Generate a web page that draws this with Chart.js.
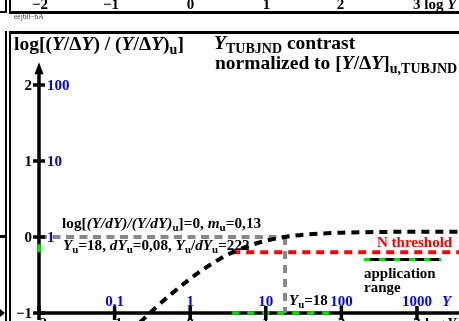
<!DOCTYPE html>
<html>
<head>
<meta charset="utf-8">
<script src="https://cdn.jsdelivr.net/npm/chart.js@4.4.1/dist/chart.umd.min.js"></script>
<style>
html, body { margin: 0; padding: 0; background: #fff; overflow: hidden; }
#wrap { position: relative; width: 459px; height: 321px; overflow: hidden;
  font-family: "Liberation Serif", "Times New Roman", serif; font-weight: bold; color: #000; }
#wrap canvas { position: absolute; left: 0; top: 0; }
.t { position: absolute; white-space: nowrap; line-height: 1; font-size: 15px; }
.c { transform: translateX(-50%); }
.s { font-size: .72em; position: relative; top: .3em; }
i { font-style: italic; }
.bar { position: absolute; background: #000; }
</style>
</head>
<body>
<div id="wrap">
  <!-- frames -->
  <div class="bar" style="left:5px;top:0;width:2px;height:13px"></div>
  <div class="bar" style="left:0;top:11px;width:7px;height:2px"></div>
  <div class="bar" style="left:9px;top:0;width:2px;height:13px"></div>
  <div class="bar" style="left:9px;top:11px;width:450px;height:2.5px"></div>
  <div class="bar" style="left:5px;top:31px;width:2px;height:290px"></div>
  <div class="bar" style="left:9px;top:31px;width:2px;height:290px"></div>
  <div class="bar" style="left:9px;top:31px;width:450px;height:2.5px"></div>
  <div class="bar" style="left:0;top:235px;width:5px;height:3px"></div>
  <div style="position:absolute;left:0;top:309px;width:0;height:0;border-top:4px solid transparent;border-bottom:4px solid transparent;border-left:5px solid #000"></div>

  <canvas id="chart" width="459" height="321"></canvas>

  <!-- tick labels of the panel above -->
  <div class="t c" style="left:40px;top:-3px">−2</div>
  <div class="t c" style="left:111px;top:-3px">−1</div>
  <div class="t c" style="left:190.5px;top:-3px">0</div>
  <div class="t c" style="left:266.5px;top:-3px">1</div>
  <div class="t c" style="left:340.5px;top:-3px">2</div>
  <div class="t" style="left:413px;top:-3px">3 log <i>Y</i></div>
  <div class="t" style="left:14px;top:13px;font-size:7.5px;font-weight:normal;color:#333">eej60−6A</div>

  <!-- titles -->
  <div class="t" style="left:14px;top:34px;font-size:19.5px">log[(<i>Y</i>/Δ<i>Y</i>) / (<i>Y</i>/Δ<i>Y</i>)<span class="s">u</span>]</div>
  <div class="t" style="left:214px;top:33px;font-size:19.5px"><i>Y</i><span class="s">TUBJND</span> contrast</div>
  <div class="t" style="left:215px;top:52.5px;font-size:19.5px">normalized to [<i>Y</i>/Δ<i>Y</i>]<span class="s">u,TUBJND</span></div>

  <!-- annotations -->
  <div class="t" style="left:62px;top:214.5px;font-size:15.3px">log[<i>(Y/dY)/(Y/dY)</i><span class="s">u</span>]=0, <i>m</i><span class="s">u</span>=0,13</div>
  <div class="t" style="left:63px;top:236.5px;font-size:15.2px"><i>Y</i><span class="s">u</span>=18, <i>dY</i><span class="s">u</span>=0,08, <i>Y</i><span class="s">u</span>/<i>dY</i><span class="s">u</span>=222</div>
  <div class="t" style="left:377px;top:234.5px;color:#ff0000">N threshold</div>
  <div style="position:absolute;left:364px;top:257.5px;width:77px;height:3.5px;background:repeating-linear-gradient(90deg,#00e000 0 6px,#000 6px 15px)"></div>
  <div class="t" style="left:364px;top:265.5px">application</div>
  <div class="t" style="left:364px;top:280px">range</div>
  <div class="t" style="left:289px;top:292.5px"><i>Y</i><span class="s">u</span>=18</div>
</div>

<script>
// log Y decades on the x axis
const decadeTicks = [-2, -1, 0, 1, 2, 3];
const blueXLabels = ["", "0,1", "1", "10", "100", "1000"];
const blackXLabels = ["−2", "−1", "0", "1", "2", "3"];

// normalized contrast levels on the y axis
const levelTicks = [2, 1, 0, -1];
const levelLabels = ["2", "1", "0", "−1"];
const ratioLabels = ["100", "10", "1", ""];

// black dashed contrast curve
const curveLogY  = [-0.8, -0.5, -0.25, 0, 0.25, 0.5, 0.75, 1.0, 1.25, 1.5, 2.0, 2.5, 3.0, 3.6];
const curveLevel = [-1.25, -0.97, -0.75, -0.55, -0.375, -0.23, -0.125, -0.05, 0.0, 0.03, 0.057, 0.066, 0.069, 0.07];

const logYu = 1.255;          // Yu = 18
const nThreshold = -0.2;
const rangeLogY = [0.556, 1.857];
const axisTop = 2.3;
const xEnd = 3.6;

function $(id){ return document.getElementById(id); }

function seg(x1, y1, x2, y2){ return [{x:x1, y:y1}, {x:x2, y:y2}]; }

const BOLD = '"Liberation Serif", "Times New Roman", serif';

const axesPlugin = {
  id: "axes",
  beforeDatasetsDraw(chart){
    const {ctx, scales:{x, y}} = chart;
    const x0 = x.getPixelForValue(decadeTicks[0]);
    const yb = y.getPixelForValue(-1);
    const yt = y.getPixelForValue(axisTop);
    ctx.save();
    ctx.strokeStyle = "#000"; ctx.fillStyle = "#000"; ctx.lineWidth = 3.5;
    ctx.beginPath(); ctx.moveTo(x0 - 1.75, yb); ctx.lineTo(chart.width, yb); ctx.stroke();
    ctx.beginPath(); ctx.moveTo(x0, yb); ctx.lineTo(x0, yt + 8); ctx.stroke();
    ctx.beginPath(); ctx.moveTo(x0, yt); ctx.lineTo(x0 - 4.5, yt + 12); ctx.lineTo(x0 + 4.5, yt + 12); ctx.closePath(); ctx.fill();
    ctx.restore();
  },
  afterDatasetsDraw(chart){
    const {ctx, scales:{x, y}} = chart;
    const x0 = x.getPixelForValue(decadeTicks[0]);
    const yb = y.getPixelForValue(-1);
    ctx.save();
    ctx.fillStyle = "#000";
    levelTicks.forEach(v => { const py = y.getPixelForValue(v); ctx.fillRect(x0 - 6, py - 1.75, 12, 3.5); });
    decadeTicks.forEach(v => { const px = x.getPixelForValue(v); ctx.fillRect(px - 1.75, yb - 7, 3.5, 14); });

    ctx.font = "bold 15px " + BOLD;
    ctx.textBaseline = "alphabetic";
    levelTicks.forEach((v, i) => {
      const py = y.getPixelForValue(v) + 5;
      ctx.fillStyle = "#000"; ctx.textAlign = "right";
      ctx.fillText(levelLabels[i], x0 - 7, py);
      ctx.fillStyle = "#0000ff"; ctx.textAlign = "left";
      ctx.fillText(ratioLabels[i], x0 + 8, py);
    });
    decadeTicks.forEach((v, i) => {
      const px = x.getPixelForValue(v);
      ctx.fillStyle = "#0000ff"; ctx.textAlign = "center";
      ctx.fillText(blueXLabels[i], px, yb - 7);
      ctx.fillStyle = "#000";
      ctx.fillText(blackXLabels[i], px, yb + 15);
    });
    ctx.textAlign = "left";
    ctx.fillStyle = "#000";
    ctx.fillText("log", x.getPixelForValue(3) + 8, yb + 15);
    ctx.font = "italic bold 15px " + BOLD;
    ctx.fillText("Y", x.getPixelForValue(3) + 30, yb + 15);
    ctx.fillStyle = "#0000ff";
    ctx.fillText("Y", x.getPixelForValue(3) + 25, yb - 7);
    ctx.restore();
  }
};

function dashed(data, color, dash){
  return { data, borderColor: color, borderWidth: 4, borderDash: dash, pointRadius: 0, fill: false, tension: 0 };
}

window.addEventListener("DOMContentLoaded", () => {
  const curve = curveLogY.map((v, i) => ({x: v, y: curveLevel[i]}));
  new Chart($("chart").getContext("2d"), {
    type: "line",
    data: {
      datasets: [
        Object.assign(dashed(curve, "#000", [8, 6]), { cubicInterpolationMode: "monotone" }),
        dashed(seg(decadeTicks[0], 0, logYu, 0), "#888", [8, 5.5]),
        dashed(seg(logYu, 0, logYu, -1), "#888", [8, 6]),
        dashed(seg(rangeLogY[0], nThreshold, xEnd, nThreshold), "#ff0000", [8, 6]),
        Object.assign(dashed(seg(rangeLogY[0], -1, rangeLogY[1], -1), "#00e000", [7, 8]), { borderWidth: 3.5 }),
        Object.assign(dashed(seg(decadeTicks[0], nThreshold, decadeTicks[0], 0), "#00e000", [8, 6]), { borderWidth: 3.5 })
      ]
    },
    options: {
      responsive: false,
      animation: false,
      devicePixelRatio: 1,
      events: [],
      layout: { padding: 0 },
      plugins: { legend: { display: false }, tooltip: { enabled: false } },
      scales: {
        x: { type: "linear", min: -2.516, max: 3.556, display: false },
        y: { type: "linear", min: -1.105, max: 3.118, display: false }
      }
    },
    plugins: [axesPlugin]
  });
});
</script>
</body>
</html>
